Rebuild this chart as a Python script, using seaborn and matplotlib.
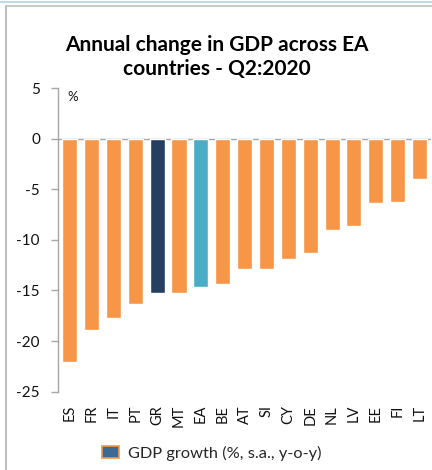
import matplotlib
matplotlib.use("Agg")
import matplotlib.pyplot as plt
import seaborn as sns
from matplotlib.patches import Patch
from matplotlib.lines import Line2D

countries = ["ES", "FR", "IT", "PT", "GR", "MT", "EA", "BE", "AT", "SI",
             "CY", "DE", "NL", "LV", "EE", "FI", "LT"]
gdp_growth = [-22.1, -18.9, -17.7, -16.3, -15.2, -15.2, -14.7, -14.4, -12.9, -12.9,
              -11.9, -11.3, -9.0, -8.6, -6.4, -6.3, -4.0]
y_ticks = [5, 0, -5, -10, -15, -20, -25]

ORANGE = "#F79646"
NAVY = "#243F60"
TEAL = "#4BACC6"
bar_colors = [NAVY if c == "GR" else TEAL if c == "EA" else ORANGE for c in countries]

sns.set_theme(style="white")
plt.rcParams["font.family"] = ["Lato", "DejaVu Sans"]

fig = plt.figure(figsize=(4.32, 4.70), dpi=100)
ax = fig.add_axes([58 / 432, 1 - 391.7 / 470, 372.5 / 432, (391.7 - 88.1) / 470])

sns.barplot(x=countries, y=gdp_growth, hue=countries, palette=bar_colors,
            legend=False, width=0.69, saturation=1, ax=ax)

ax.set_ylim(-25, 5)
ax.set_xlim(-0.53, 16.5)
ax.set_yticks(y_ticks)
ax.set_yticklabels([str(v) for v in y_ticks], fontsize=11, color="#111111")
ax.tick_params(axis="y", left=True, length=5, width=1, color="#A6A6A6", pad=8)
ax.tick_params(axis="x", bottom=False, length=0, pad=9.5, labelsize=10.5,
               labelcolor="#111111")
plt.setp(ax.get_xticklabels(), rotation=90)
ax.set_xlabel("")
ax.set_ylabel("")

for s in ["top", "right", "bottom"]:
    ax.spines[s].set_visible(False)
ax.spines["left"].set_color("#A6A6A6")
ax.spines["left"].set_linewidth(1)
ax.axhline(0, color="#A6A6A6", lw=1, zorder=0.5)

ax.text(-0.12, 4.1, "%", fontsize=9.5, va="center", ha="left", color="#111111")

fig.text(0.502, 1 - 57 / 470, "Annual change in GDP across EA\ncountries - Q2:2020",
         ha="center", va="center", fontsize=15, fontweight="bold",
         linespacing=1.25, color="#000000")

handle = Patch(facecolor="#3B6A96", edgecolor=ORANGE, linewidth=1.2)
fig.legend([handle], ["GDP growth (%, s.a., y-o-y)"], loc="center",
           bbox_to_anchor=(212 / 432, 1 - 453 / 470), frameon=False, fontsize=11.8,
           handlelength=1.0, handleheight=0.8, handletextpad=0.6)

# outer frame
fig.add_artist(Line2D([6 / 432, 1], [1 - 5.5 / 470] * 2, color="#BFBFBF", lw=1.2,
                      transform=fig.transFigure))
fig.add_artist(Line2D([6 / 432] * 2, [0, 1 - 5.5 / 470], color="#BFBFBF", lw=1.5,
                      transform=fig.transFigure))
fig.add_artist(Line2D([0, 1], [1 - 1.5 / 470] * 2, color="#BFDCE6", lw=1.5,
                      transform=fig.transFigure))

fig.savefig("out.png", dpi=100)
